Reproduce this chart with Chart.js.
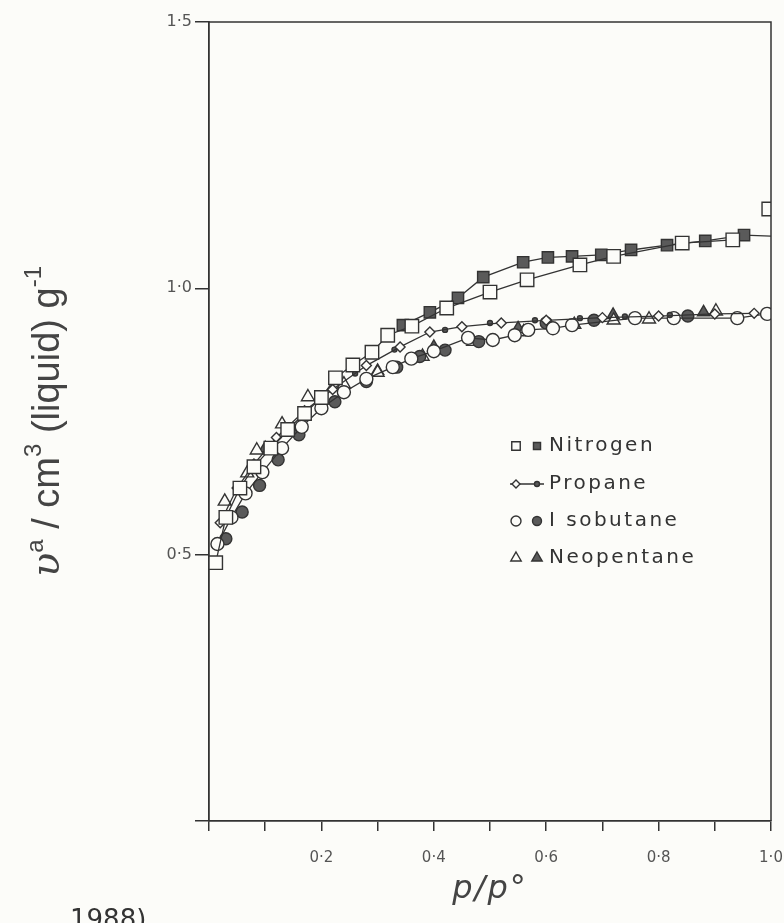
<!DOCTYPE html>
<html>
<head>
<meta charset="utf-8">
<script src="https://cdn.jsdelivr.net/npm/chart.js@4.4.1/dist/chart.umd.min.js"></script>
<style>
  html, body { margin: 0; padding: 0; background: #fcfcf9; }
  #wrap { width: 784px; height: 923px; position: relative; }
</style>
</head>
<body>
<div id="wrap"><canvas id="isotherms"></canvas></div>
<script>
// relative pressure p/p° and amount adsorbed (cm3 liquid per g)
const nitrogenOpenX = [0.012, 0.03, 0.055, 0.08, 0.11, 0.14, 0.17, 0.2, 0.225, 0.256, 0.29, 0.318, 0.361, 0.423, 0.5, 0.566, 0.66, 0.72, 0.842, 0.932, 0.996];
const nitrogenOpenY = [0.485, 0.57, 0.625, 0.665, 0.70, 0.735, 0.765, 0.795, 0.832, 0.856, 0.88, 0.912, 0.929, 0.963, 0.993, 1.016, 1.044, 1.06, 1.085, 1.091, 1.149];
const nitrogenFilledX = [0.345, 0.393, 0.443, 0.488, 0.559, 0.603, 0.646, 0.698, 0.751, 0.815, 0.883, 0.952, 1.0];
const nitrogenFilledY = [0.931, 0.955, 0.982, 1.021, 1.049, 1.058, 1.06, 1.063, 1.072, 1.081, 1.089, 1.1, 1.098];
const propaneOpenX = [0.02, 0.05, 0.08, 0.12, 0.17, 0.22, 0.28, 0.34, 0.393, 0.45, 0.52, 0.6, 0.7, 0.8, 0.9, 0.97];
const propaneOpenY = [0.56, 0.625, 0.67, 0.72, 0.77, 0.81, 0.855, 0.89, 0.918, 0.928, 0.935, 0.94, 0.945, 0.948, 0.952, 0.953];
const propaneFilledX = [0.26, 0.33, 0.42, 0.5, 0.58, 0.66, 0.74, 0.82, 0.9];
const propaneFilledY = [0.84, 0.885, 0.922, 0.935, 0.94, 0.944, 0.947, 0.95, 0.953];
const isobutaneOpenX = [0.015, 0.04, 0.065, 0.095, 0.13, 0.165, 0.2, 0.24, 0.28, 0.327, 0.36, 0.4, 0.461, 0.505, 0.544, 0.568, 0.612, 0.646, 0.758, 0.827, 0.94, 0.993];
const isobutaneOpenY = [0.52, 0.57, 0.615, 0.655, 0.70, 0.74, 0.775, 0.805, 0.83, 0.852, 0.868, 0.882, 0.907, 0.903, 0.912, 0.922, 0.925, 0.931, 0.944, 0.944, 0.944, 0.952];
const isobutaneFilledX = [0.03, 0.059, 0.09, 0.123, 0.16, 0.224, 0.28, 0.334, 0.375, 0.42, 0.48, 0.6, 0.685, 0.852];
const isobutaneFilledY = [0.53, 0.58, 0.63, 0.678, 0.725, 0.787, 0.825, 0.852, 0.872, 0.884, 0.9, 0.935, 0.94, 0.948];
const neopentaneOpenX = [0.028, 0.068, 0.085, 0.13, 0.176, 0.24, 0.3, 0.38, 0.47, 0.56, 0.65, 0.72, 0.783, 0.902];
const neopentaneOpenY = [0.6, 0.653, 0.696, 0.745, 0.796, 0.82, 0.842, 0.872, 0.9, 0.918, 0.932, 0.94, 0.942, 0.957];
const neopentaneFilledX = [0.1, 0.2, 0.3, 0.4, 0.55, 0.719, 0.88];
const neopentaneFilledY = [0.7, 0.79, 0.845, 0.89, 0.925, 0.95, 0.955];

const xTickValues = [0, 0.1, 0.2, 0.3, 0.4, 0.5, 0.6, 0.7, 0.8, 0.9, 1.0];
const xTickLabels = ['', '', '0·2', '', '0·4', '', '0·6', '', '0·8', '', '1·0'];
const yTickValues = [0, 0.5, 1.0, 1.5];
const yTickLabels = ['', '0·5', '1·0', '1·5'];

const legendNames = ['Nitrogen', 'Propane', 'I sobutane', 'Neopentane'];

const INK = '#333';
const PAPER = '#fcfcf9';
const FILL = '#5a5a5a';

function pts(xs, ys) {
    return xs.map((x, i) => ({ x: x, y: ys[i] }));
}

function series(xs, ys, style, radius, filled, line) {
    return {
        data: pts(xs, ys),
        pointStyle: style,
        pointRadius: radius,
        pointBackgroundColor: filled ? FILL : PAPER,
        pointBorderColor: INK,
        pointBorderWidth: 1.4,
        borderColor: INK,
        borderWidth: 1.3,
        showLine: line,
        tension: 0
    };
}

const datasets = [
    series(nitrogenOpenX, nitrogenOpenY, 'rect', 9.5, false, true),
    series(nitrogenFilledX, nitrogenFilledY, 'rect', 8, true, true),
    series(propaneOpenX, propaneOpenY, 'rectRot', 5, false, true),
    series(propaneFilledX, propaneFilledY, 'circle', 2.5, true, false),
    series(isobutaneOpenX, isobutaneOpenY, 'circle', 6.5, false, true),
    series(isobutaneFilledX, isobutaneFilledY, 'circle', 6, true, false),
    series(neopentaneOpenX, neopentaneOpenY, 'triangle', 7.5, false, false),
    series(neopentaneFilledX, neopentaneFilledY, 'triangle', 7, true, false)
];
// saturation point of nitrogen is not joined to the curve
datasets[0].segment = { borderColor: c => c.p1DataIndex === nitrogenOpenX.length - 1 ? 'transparent' : INK };
// desorption line runs to p/p° = 1 without a marker there
datasets[1].pointRadius = c => c.dataIndex === nitrogenFilledX.length - 1 ? 0 : 8;

const decor = {
    id: 'decor',
    afterDraw(chart) {
        const ctx = chart.ctx;
        const a = chart.chartArea;
        ctx.save();
        // frame top and right
        ctx.strokeStyle = INK;
        ctx.lineWidth = 1.5;
        ctx.beginPath();
        ctx.moveTo(a.left, a.top);
        ctx.lineTo(a.right, a.top);
        ctx.lineTo(a.right, a.bottom);
        ctx.stroke();

        // legend
        const lx = 516, rows = [446, 484, 521, 558];
        ctx.font = '20px "DejaVu Sans"';
        ctx.letterSpacing = '2.5px';
        ctx.textBaseline = 'middle';
        const mark = (style, r, filled, x, y) => {
            ctx.fillStyle = filled ? FILL : PAPER;
            ctx.strokeStyle = INK;
            ctx.lineWidth = 1.4;
            Chart.helpers.drawPoint(ctx, { pointStyle: style, radius: r, rotation: 0, borderWidth: 1.4 }, x, y);
        };
        mark('rect', 6, false, lx, rows[0]);
        mark('rect', 5, true, lx + 21, rows[0]);
        ctx.beginPath();
        ctx.moveTo(lx - 6, rows[1]);
        ctx.lineTo(lx + 28, rows[1]);
        ctx.stroke();
        mark('rectRot', 4, false, lx, rows[1]);
        mark('circle', 2.5, true, lx + 21, rows[1]);
        mark('circle', 5, false, lx, rows[2]);
        mark('circle', 4.5, true, lx + 21, rows[2]);
        mark('triangle', 6, false, lx, rows[3]);
        mark('triangle', 6, true, lx + 21, rows[3]);
        ctx.fillStyle = INK;
        legendNames.forEach((n, i) => ctx.fillText(n, lx + 33, rows[i]));
        ctx.letterSpacing = '0px';

        // x axis title
        ctx.font = 'italic 32px "DejaVu Sans"';
        ctx.letterSpacing = '2px';
        ctx.textAlign = 'center';
        ctx.fillStyle = '#444';
        ctx.fillText('p/p°', (a.left + a.right) / 2, 890);
        ctx.letterSpacing = '0px';

        // y axis title, rotated, with superscripts
        ctx.translate(46, (a.top + a.bottom) / 2);
        ctx.rotate(-Math.PI / 2);
        ctx.textAlign = 'left';
        ctx.textBaseline = 'alphabetic';
        const parts = [
            ['italic 40px "DejaVu Serif"', 'υ', 0],
            ['24px "Liberation Sans"', 'a', -16],
            ['38px "Liberation Sans"', ' / cm', 0],
            ['24px "Liberation Sans"', '3', -18],
            ['38px "Liberation Sans"', ' (liquid) g', 0],
            ['24px "Liberation Sans"', '-1', -18]
        ];
        let w = 0;
        parts.forEach(p => { ctx.font = p[0]; w += ctx.measureText(p[1]).width; });
        let cx = -w / 2;
        parts.forEach(p => {
            ctx.font = p[0];
            ctx.fillText(p[1], cx, 13 + p[2]);
            cx += ctx.measureText(p[1]).width;
        });
        ctx.restore();

        // citation fragment cut off at the bottom edge
        ctx.save();
        ctx.font = '26px "DejaVu Sans"';
        ctx.fillStyle = INK;
        ctx.fillText('1988)', 70, 928);
        ctx.restore();
    }
};

new Chart(document.getElementById('isotherms'), {
    type: 'scatter',
    data: { datasets: datasets },
    options: {
        responsive: true,
        maintainAspectRatio: false,
        animation: false,
        layout: { padding: { top: 22, right: 13, left: 0, bottom: 0 } },
        plugins: { legend: { display: false }, tooltip: { enabled: false } },
        scales: {
            x: {
                type: 'linear',
                min: 0,
                max: 1,
                afterFit: s => { s.height = 102; s.paddingRight = 0; s.paddingLeft = 0; },
                afterBuildTicks: s => { s.ticks = xTickValues.map(v => ({ value: v })); },
                ticks: {
                    callback: (v, i) => xTickLabels[i],
                    color: '#555',
                    font: { family: 'DejaVu Sans', size: 15 },
                    padding: 18,
                    maxRotation: 0,
                    autoSkip: false
                },
                grid: { drawOnChartArea: false, drawTicks: true, tickLength: 10, color: INK, lineWidth: 1.5 },
                border: { color: INK, width: 1.8 }
            },
            y: {
                min: 0,
                max: 1.5,
                afterFit: s => { s.width = 209; s.paddingTop = 0; s.paddingBottom = 0; },
                afterBuildTicks: s => { s.ticks = yTickValues.map(v => ({ value: v })); },
                ticks: {
                    callback: (v, i) => yTickLabels[i],
                    color: '#555',
                    font: { family: 'DejaVu Sans', size: 16 },
                    padding: 3,
                    autoSkip: false
                },
                grid: { drawOnChartArea: false, drawTicks: true, tickLength: 14, color: INK, lineWidth: 1.5 },
                border: { color: INK, width: 1.8 }
            }
        }
    },
    plugins: [decor]
});
</script>
</body>
</html>
